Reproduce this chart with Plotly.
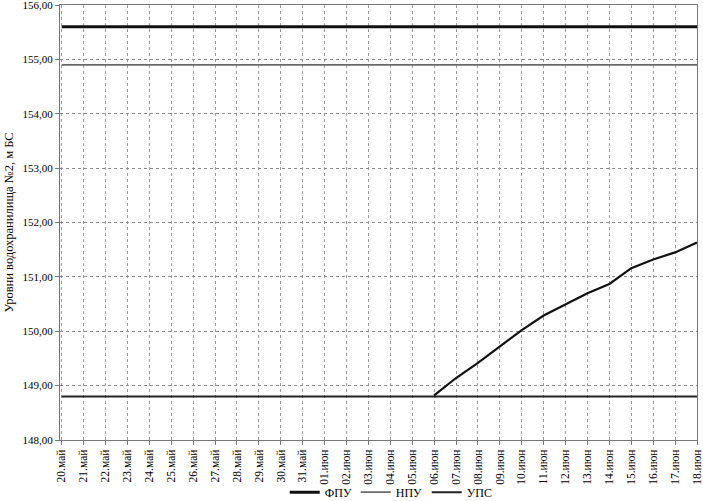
import plotly.graph_objects as go

# даты (категории оси X)
dates = ['20.май', '21.май', '22.май', '23.май', '24.май', '25.май', '26.май',
         '27.май', '28.май', '29.май', '30.май', '31.май', '01.июн', '02.июн',
         '03.июн', '04.июн', '05.июн', '06.июн', '07.июн', '08.июн', '09.июн',
         '10.июн', '11.июн', '12.июн', '13.июн', '14.июн', '15.июн', '16.июн',
         '17.июн', '18.июн']

fpu_level = 155.6
npu_level = 154.9
ups_level = 148.8

# фактический уровень с 06.июн
rise_dates = dates[17:]
rise_values = [148.82, 149.14, 149.42, 149.72, 150.02, 150.29, 150.50,
               150.70, 150.87, 151.16, 151.32, 151.45, 151.63]

y_ticks = [148, 149, 150, 151, 152, 153, 154, 155, 156]
y_labels = ['148,00', '149,00', '150,00', '151,00', '152,00', '153,00',
            '154,00', '155,00', '156,00']

FONT = 'Liberation Serif'

fig = go.Figure()

fig.add_trace(go.Scatter(
    x=dates, y=[fpu_level] * len(dates), mode='lines', name='ФПУ',
    line=dict(color='#111111', width=3)
))
fig.add_trace(go.Scatter(
    x=dates, y=[npu_level] * len(dates), mode='lines', name='НПУ',
    line=dict(color='#6a6a6a', width=1.8)
))
fig.add_trace(go.Scatter(
    x=dates, y=[ups_level] * len(dates), mode='lines', name='УПС',
    line=dict(color='#222222', width=2)
))
fig.add_trace(go.Scatter(
    x=rise_dates, y=rise_values, mode='lines', showlegend=False,
    line=dict(color='#111111', width=2.2)
))

fig.update_layout(
    width=703, height=501,
    margin=dict(l=60, r=6, t=5, b=61, autoexpand=False),
    paper_bgcolor='white', plot_bgcolor='white',
    font=dict(family=FONT, size=11, color='black'),
    showlegend=True,
    legend=dict(orientation='h', x=0.52, xanchor='center', y=-0.12, yanchor='middle',
                font=dict(family=FONT, size=12), itemwidth=30,
                entrywidth=26, entrywidthmode='pixels',
                bgcolor='rgba(0,0,0,0)'),
    xaxis=dict(
        type='category', range=[-0.08, 29.0], automargin=False,
        tickangle=-90, tickfont=dict(family=FONT, size=11.5),
        showgrid=True, gridcolor='#9a9a9a', griddash='dot', gridwidth=1,
        showline=True, linecolor='#777777', mirror=True,
        ticks='outside', ticklen=4, tickcolor='#777777',
    ),
    yaxis=dict(
        range=[148, 156], tickvals=y_ticks, ticktext=y_labels, automargin=False,
        tickfont=dict(family=FONT, size=11), ticklabeloverflow='allow',
        showgrid=True, gridcolor='#8a8a8a', griddash='dot', gridwidth=1,
        showline=True, linecolor='#777777', mirror=True,
        ticks='outside', ticklen=4, tickcolor='#777777',
        zeroline=False,
        title=dict(text='Уровни водохранилища №2, м БС',
                   font=dict(family=FONT, size=12.5), standoff=6),
    ),
)

fig.write_html('out.html', config={'displayModeBar': False},
               post_script="document.body.style.margin='0';")
